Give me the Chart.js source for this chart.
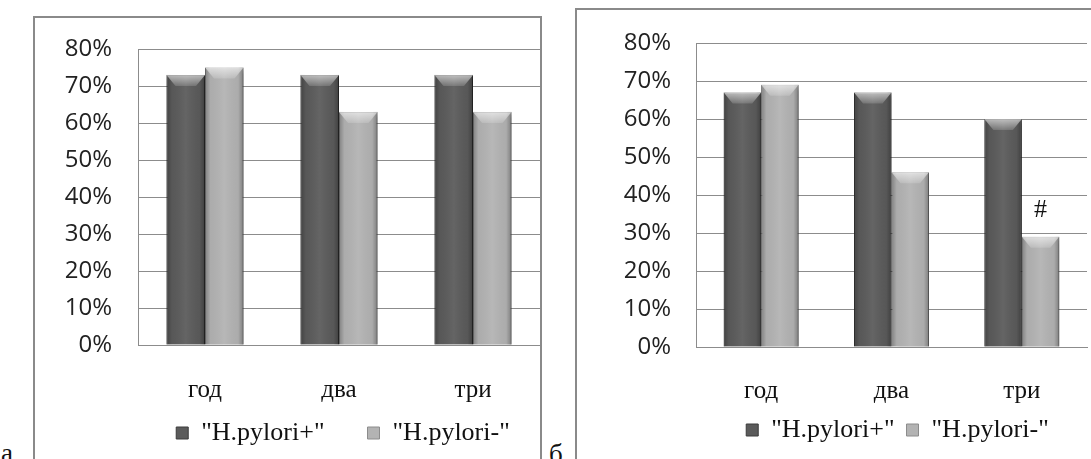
<!DOCTYPE html>
<html>
<head>
<meta charset="utf-8">
<script src="https://cdn.jsdelivr.net/npm/chart.js@4.4.0/dist/chart.umd.min.js"></script>
<style>
html,body{margin:0;padding:0;background:#fff;overflow:hidden;width:1091px;height:459px;}
.frame{position:absolute;box-sizing:border-box;border:2px solid #8a8a8a;border-bottom:none;}
#frameA{left:33px;top:16px;width:509px;height:460px;}
#frameB{left:575px;top:8px;width:600px;height:460px;border-right:none;}
.box{position:absolute;}
#boxA{left:35px;top:18px;width:505px;height:441px;}
#boxB{left:577px;top:10px;width:514px;height:449px;}
.tag{position:absolute;font-family:"Liberation Serif",serif;font-size:27px;color:#111;line-height:27px;}
</style>
</head>
<body>
<div class="frame" id="frameA"></div>
<div class="frame" id="frameB"></div>
<div class="box" id="boxA"><canvas id="chartA" width="505" height="441"></canvas></div>
<div class="box" id="boxB"><canvas id="chartB" width="514" height="449"></canvas></div>
<div class="tag" style="left:1px;top:440px;">а</div>
<div class="tag" style="left:549px;top:441px;">б</div>

<script>
// data
const categories = ["год", "два", "три"]
const seriesNames = ['"H.pylori+"', '"H.pylori-"']

const posA = [73, 73, 73]
const negA = [75, 63, 63]

const posB = [67, 67, 60]
const negB = [69, 46, 29]
const marksB = ["", "", "#"]

const yTicks = [0, 10, 20, 30, 40, 50, 60, 70, 80]

const darkColor = "#5b5b5b"
const lightColor = "#b3b3b3"

// soft shadow under the bars
const barShadow = {
  id: "barShadow",
  beforeDatasetsDraw(chart) {
    const ctx = chart.ctx
    ctx.save()
    ctx.shadowColor = "rgba(0,0,0,0.35)"
    ctx.shadowBlur = 5
    ctx.shadowOffsetX = 2
    ctx.shadowOffsetY = 2
  },
  afterDatasetsDraw(chart) {
    chart.ctx.restore()
  }
}

// side shading + top bevel, like the office 3d look
const bevel = {
  id: "bevel",
  afterDatasetsDraw(chart) {
    const ctx = chart.ctx
    chart.data.datasets.forEach((ds, di) => {
      chart.getDatasetMeta(di).data.forEach(bar => {
        const w = bar.width
        const l = bar.x - w / 2
        const r = bar.x + w / 2
        const t = bar.y
        const b = bar.base
        ctx.save()
        let g = ctx.createLinearGradient(l, 0, r, 0)
        g.addColorStop(0, "rgba(0,0,0,0.28)")
        g.addColorStop(0.14, "rgba(0,0,0,0.04)")
        g.addColorStop(0.5, "rgba(255,255,255,0.06)")
        g.addColorStop(0.86, "rgba(0,0,0,0.04)")
        g.addColorStop(1, "rgba(0,0,0,0.3)")
        ctx.fillStyle = g
        ctx.fillRect(l, t, w, b - t)
        const h = 11, inset = 9
        let g2 = ctx.createLinearGradient(0, t, 0, t + h)
        g2.addColorStop(0, "rgba(255,255,255,0.6)")
        g2.addColorStop(1, "rgba(255,255,255,0.15)")
        ctx.beginPath()
        ctx.moveTo(l, t)
        ctx.lineTo(r, t)
        ctx.lineTo(r - inset, t + h)
        ctx.lineTo(l + inset, t + h)
        ctx.closePath()
        ctx.fillStyle = g2
        ctx.fill()
        ctx.restore()
      })
    })
  }
}

// "#" sign above a bar
function markPlugin(marks, di) {
  return {
    id: "marks",
    afterDatasetsDraw(chart) {
      const ctx = chart.ctx
      ctx.save()
      ctx.font = '26px "Liberation Serif", serif'
      ctx.fillStyle = "#111"
      ctx.textAlign = "center"
      ctx.textBaseline = "middle"
      chart.getDatasetMeta(di).data.forEach((bar, i) => {
        if (marks[i]) ctx.fillText(marks[i], bar.x, bar.y - 27)
      })
      ctx.restore()
    }
  }
}

// fixed legend height, no wrapping, optional upward shift of its top
function legendTweak(h, shift, nudgeX) {
  return {
    id: "legendTweak",
    beforeInit(chart) {
      const fit = chart.legend.fit
      chart.legend.fit = function () {
        this.maxWidth = 3000
        fit.call(this)
        this.height = h
      }
    },
    afterLayout(chart) {
      const lg = chart.legend
      lg.top += shift
      lg.height = lg.bottom - lg.top
      lg.left -= 100 - nudgeX
      lg.right += 100 + nudgeX
      lg.width = lg.right - lg.left
    }
  }
}

function makeChart(id, pos, neg, s, extra) {
  return new Chart(document.getElementById(id), {
    type: "bar",
    data: {
      labels: categories,
      datasets: [
        { label: seriesNames[0], data: pos, backgroundColor: darkColor, borderColor: "#3c3c3c", borderWidth: 1 },
        { label: seriesNames[1], data: neg, backgroundColor: lightColor, borderColor: "#8c8c8c", borderWidth: 1 }
      ]
    },
    options: {
      responsive: false,
      animation: false,
      layout: { padding: { top: s.top, right: s.right, left: 0, bottom: 0 } },
      datasets: { bar: { categoryPercentage: 0.575, barPercentage: 1.0 } },
      scales: {
        x: {
          grid: { display: false, drawTicks: false },
          border: { display: true, color: "#8c8c8c", width: 1 },
          ticks: { padding: s.xPad, color: "#111", font: { family: "Liberation Serif", size: 25 } },
          afterFit(a) { a.height = s.xh }
        },
        y: {
          min: 0,
          max: 80,
          afterBuildTicks(a) { a.ticks = yTicks.map(v => ({ value: v })) },
          grid: { color: "#8c8c8c", lineWidth: 1, drawTicks: false },
          border: { display: true, color: "#8c8c8c", width: 1 },
          ticks: { padding: s.yPad, color: "#222", font: { family: "Open Sans", size: 24 }, callback: v => v + "%" },
          afterFit(a) {
            a.width = s.yw
            a.paddingTop = 0
            a.paddingBottom = 0
          }
        }
      },
      plugins: {
        tooltip: { enabled: false },
        legend: {
          position: "bottom",
          fullSize: false,
          labels: {
            color: "#111",
            font: { family: "Liberation Serif", size: 26 },
            boxWidth: 12,
            boxHeight: 12,
            padding: s.legPad
          }
        }
      }
    },
    plugins: [legendTweak(s.legH, s.legShift, s.legNudge), barShadow, bevel].concat(extra || [])
  })
}

makeChart("chartA", posA, negA, { top: 31, right: 0, yw: 103, yPad: 26, xh: 62, xPad: 30, legPad: 43, legH: 52, legShift: -30, legNudge: 4 })
makeChart("chartB", posB, negB, { top: 33, right: 4, yw: 119, yPad: 25, xh: 58, xPad: 29, legPad: 12, legH: 54, legShift: 0, legNudge: 6 }, [markPlugin(marksB, 1)])
</script>
</body>
</html>
